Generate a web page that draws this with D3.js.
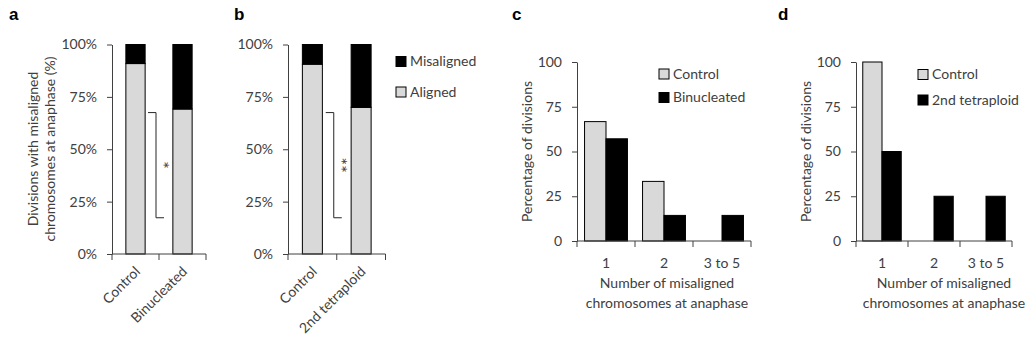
<!DOCTYPE html>
<html><head><meta charset="utf-8">
<script src="https://cdn.jsdelivr.net/npm/d3@7"></script>
<style>
body{margin:0;background:#fff}
svg text{font-family:Lato,"Open Sans",sans-serif;fill:#404040}
</style>
</head><body>
<svg id="chart" width="1034" height="345"></svg>
<script>
// ---- data ----
const pctTicks = [0, 25, 50, 75, 100];
const pctTickLabels = ["0%", "25%", "50%", "75%", "100%"];
const numTickLabels = ["0", "25", "50", "75", "100"];

const catsA = ["Control", "Binucleated"];
const alignedA = [90.9, 69.2];
const misalignedA = [9.1, 30.8];

const catsB = ["Control", "2nd tetraploid"];
const alignedB = [90.6, 70.0];
const misalignedB = [9.4, 30.0];

const stackSeries = ["Misaligned", "Aligned"];

const countCats = ["1", "2", "3 to 5"];
const controlC = [66.7, 33.3, 0];
const binucC = [57.1, 14.3, 14.3];
const seriesC = ["Control", "Binucleated"];

const controlD = [100, 0, 0];
const tetraD = [50, 25, 25];
const seriesD = ["Control", "2nd tetraploid"];

const bracketA = { top: 67.5, bottom: 17.3, label: "*" };
const bracketB = { top: 67.5, bottom: 17.3, label: "**" };

// ---- style ----
const GRAY = "#d9d9d9", BLACK = "#000000", AXIS = "#404040", FS = 14;
const svg = d3.select("#chart");

function panelLetter(t, x) {
  svg.append("text").attr("x", x).attr("y", 20).text(t)
    .style("font-family", "Arial, 'Liberation Sans', sans-serif")
    .style("font-weight", "bold").style("font-size", "17px").style("fill", "#000");
}

function yAxis(g, y, x0, labels) {
  const ax = d3.axisLeft(y).tickValues(pctTicks)
    .tickFormat((d, i) => labels[i]).tickSize(5).tickSizeOuter(0).tickPadding(10);
  const a = g.append("g").attr("transform", `translate(${x0},0)`).call(ax);
  a.select(".domain").attr("stroke", AXIS);
  a.selectAll(".tick line").attr("stroke", AXIS);
  a.selectAll("text").style("font-size", FS + "px").attr("fill", "#404040");
}

function xAxisLine(g, x, x0, x1, yb) {
  g.append("line").attr("x1", x0).attr("x2", x1).attr("y1", yb).attr("y2", yb)
    .attr("stroke", AXIS);
  const bounds = [x0].concat(x.domain().map(c => x(c) + x.bandwidth()));
  g.selectAll(null).data(bounds).join("line")
    .attr("x1", d => d).attr("x2", d => d).attr("y1", yb).attr("y2", yb + 6)
    .attr("stroke", AXIS);
}

function stackedPanel(cfg) {
  const g = svg.append("g");
  const y = d3.scaleLinear().domain([0, 100]).range([cfg.yb, cfg.yt]);
  const x = d3.scaleBand().domain(cfg.cats).range([cfg.x0, cfg.x1]);
  const bw = x.bandwidth() * 0.41;
  const cx = c => x(c) + x.bandwidth() / 2;
  cfg.cats.forEach((c, i) => {
    const a = cfg.aligned[i], m = cfg.misaligned[i];
    g.append("rect").attr("x", cx(c) - bw / 2).attr("y", y(a))
      .attr("width", bw).attr("height", y(0) - y(a))
      .attr("fill", GRAY).attr("stroke", BLACK).attr("stroke-width", 1);
    g.append("rect").attr("x", cx(c) - bw / 2).attr("y", y(a + m))
      .attr("width", bw).attr("height", y(a) - y(a + m))
      .attr("fill", BLACK).attr("stroke", BLACK).attr("stroke-width", 1);
  });
  yAxis(g, y, cfg.x0, pctTickLabels);
  xAxisLine(g, x, cfg.x0, cfg.x1, cfg.yb);
  // rotated category labels
  cfg.cats.forEach(c => {
    g.append("text").attr("text-anchor", "end")
      .attr("transform", `translate(${cx(c) + 2},${cfg.yb + 15}) rotate(-45)`)
      .attr("dy", "0.35em").style("font-size", FS + "px").text(c);
  });
  // significance bracket
  const bx = x(cfg.cats[0]) + x.bandwidth() - 3;
  const b = cfg.bracket;
  const path = d3.path();
  path.moveTo(bx - 8, y(b.top)); path.lineTo(bx, y(b.top));
  path.lineTo(bx, y(b.bottom)); path.lineTo(bx + 8, y(b.bottom));
  g.append("path").attr("d", path.toString()).attr("fill", "none")
    .attr("stroke", "#262626").attr("stroke-width", 1);
  g.append("text").attr("text-anchor", "middle")
    .attr("transform", `translate(${bx + 2},${(y(b.top) + y(b.bottom)) / 2}) rotate(90)`)
    .attr("dy", "0.1em").style("font-size", "18px").text(b.label);
  return { g, x, y };
}

function groupedPanel(cfg) {
  const g = svg.append("g");
  const y = d3.scaleLinear().domain([0, 100]).range([cfg.yb, cfg.yt]);
  const x = d3.scaleBand().domain(countCats).range([cfg.x0, cfg.x1]);
  const inner = d3.scaleBand().domain(cfg.series)
    .range([x.bandwidth() * 0.13, x.bandwidth() * 0.87]);
  const colors = [GRAY, BLACK];
  [cfg.s1, cfg.s2].forEach((vals, si) => {
    g.selectAll(null).data(countCats.map((c, i) => ({ c, v: vals[i] })).filter(d => d.v > 0))
      .join("rect")
      .attr("x", d => x(d.c) + inner(cfg.series[si]))
      .attr("y", d => y(d.v)).attr("width", inner.bandwidth())
      .attr("height", d => y(0) - y(d.v))
      .attr("fill", colors[si]).attr("stroke", BLACK).attr("stroke-width", 1);
  });
  yAxis(g, y, cfg.x0, numTickLabels);
  xAxisLine(g, x, cfg.x0, cfg.x1, cfg.yb);
  countCats.forEach(c => {
    g.append("text").attr("text-anchor", "middle")
      .attr("x", x(c) + x.bandwidth() / 2).attr("y", cfg.yb + 22)
      .attr("dy", "0.35em").style("font-size", FS + "px").text(c);
  });
  const mid = (cfg.x0 + cfg.x1) / 2 + cfg.titleShift;
  ["Number of misaligned", "chromosomes at anaphase"].forEach((t, i) => {
    g.append("text").attr("text-anchor", "middle").attr("x", mid)
      .attr("y", cfg.yb + 42 + i * 20).attr("dy", "0.35em")
      .style("font-size", FS + "px").text(t);
  });
  g.append("text").attr("text-anchor", "middle")
    .attr("transform", `translate(${cfg.x0 - 50},${(cfg.yt + cfg.yb) / 2}) rotate(-90)`)
    .attr("dy", "0.35em").style("font-size", FS + "px").text("Percentage of divisions");
  // legend
  cfg.series.forEach((s, i) => {
    const ly = cfg.ly + i * cfg.lgap;
    g.append("rect").attr("x", cfg.lx).attr("y", ly - 5).attr("width", 10).attr("height", 10)
      .attr("fill", colors[i]).attr("stroke", BLACK).attr("stroke-width", 1);
    g.append("text").attr("x", cfg.lx + 14).attr("y", ly).attr("dy", "0.35em")
      .style("font-size", FS + "px").text(s);
  });
}

// ---- panel a ----
panelLetter("a", 9);
stackedPanel({ cats: catsA, aligned: alignedA, misaligned: misalignedA,
  x0: 112, x1: 206, yt: 44.5, yb: 254, bracket: bracketA });
["Divisions with misaligned", "chromosomes at anaphase (%)"].forEach((t, i) => {
  svg.append("text").attr("text-anchor", "middle")
    .attr("transform", `translate(${33 + i * 17},149) rotate(-90)`)
    .attr("dy", "0.35em").style("font-size", FS + "px").text(t);
});

// ---- panel b ----
panelLetter("b", 234);
stackedPanel({ cats: catsB, aligned: alignedB, misaligned: misalignedB,
  x0: 288, x1: 385.5, yt: 44.5, yb: 254, bracket: bracketB });
[["Misaligned", BLACK, 61.5], ["Aligned", GRAY, 92]].forEach(([t, col, ly]) => {
  svg.append("rect").attr("x", 396).attr("y", ly - 5).attr("width", 10).attr("height", 10)
    .attr("fill", col).attr("stroke", BLACK);
  svg.append("text").attr("x", 410).attr("y", ly).attr("dy", "0.35em")
    .style("font-size", FS + "px").text(t);
});

// ---- panel c ----
panelLetter("c", 512);
groupedPanel({ series: seriesC, s1: controlC, s2: binucC, x0: 577, x1: 751,
  yt: 62, yb: 241, lx: 659, ly: 74, lgap: 23.5, titleShift: 3 });

// ---- panel d ----
panelLetter("d", 778);
groupedPanel({ series: seriesD, s1: controlD, s2: tetraD, x0: 856, x1: 1012,
  yt: 62, yb: 241, lx: 918, ly: 74.5, lgap: 25.5, titleShift: 10 });
</script>
</body></html>
